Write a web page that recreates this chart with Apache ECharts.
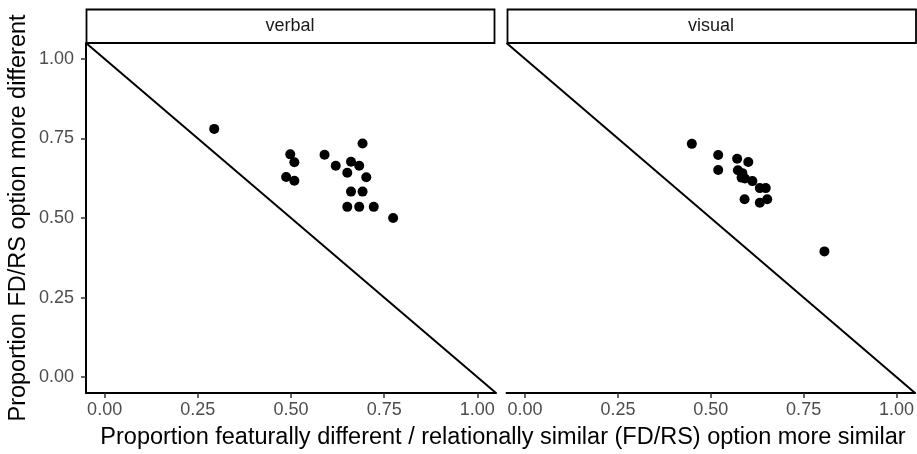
<!DOCTYPE html>
<html>
<head>
<meta charset="utf-8">
<script src="https://cdn.jsdelivr.net/npm/echarts@6/dist/echarts.min.js"></script>
<style>html,body{margin:0;padding:0;background:#fff;}#c{width:917px;height:454px;}</style>
</head>
<body>
<div id="c"></div>
<script>
// Facet names
var panels = ['verbal', 'visual'];
// Tick values
var ticks = [0, 0.25, 0.5, 0.75, 1.0];
// Reference diagonal (y = 1 - x) endpoints over the axis range
var diagonal = [[-0.05, 1.05], [1.05, -0.05]];
// verbal: [FD/RS more similar, FD/RS more different]
var verbalX = [0.294, 0.498, 0.509, 0.487, 0.509, 0.590, 0.692, 0.620, 0.661, 0.683, 0.651, 0.702, 0.661, 0.692, 0.651, 0.683, 0.722, 0.774];
var verbalY = [0.780, 0.700, 0.675, 0.629, 0.617, 0.699, 0.734, 0.664, 0.677, 0.664, 0.642, 0.628, 0.583, 0.583, 0.535, 0.535, 0.535, 0.500];
// visual
var visualX = [0.449, 0.520, 0.520, 0.571, 0.601, 0.573, 0.585, 0.583, 0.592, 0.612, 0.632, 0.648, 0.591, 0.632, 0.652, 0.806];
var visualY = [0.733, 0.698, 0.651, 0.686, 0.676, 0.650, 0.641, 0.627, 0.624, 0.616, 0.594, 0.594, 0.559, 0.548, 0.559, 0.395];

function pairs(xs, ys) { return xs.map(function (x, i) { return [x, ys[i]]; }); }

var FONT = 'Liberation Sans, Arial, sans-serif';
var chart = echarts.init(document.getElementById('c'), null, {renderer: 'canvas'});

function xAxisFor(gi) {
  return {
    type: 'value', gridIndex: gi, min: -0.05, max: 1.05,
    axisLine: {show: true, onZero: false, lineStyle: {color: '#000', width: 2}},
    axisTick: {show: true, length: 5, lineStyle: {color: '#333', width: 1.5}, customValues: ticks},
    axisLabel: {show: true, customValues: ticks, color: '#4D4D4D', fontSize: 18, fontFamily: FONT, margin: 8,
      formatter: function (v) { return v.toFixed(2); }},
    splitLine: {show: false}
  };
}

var option = {
  animation: false,
  backgroundColor: '#fff',
  grid: [
    {left: 86, top: 43, width: 410, height: 350},
    {left: 506.5, top: 43, width: 410, height: 350}
  ],
  xAxis: [xAxisFor(0), xAxisFor(1)],
  yAxis: [
    {
      type: 'value', gridIndex: 0, min: -0.05, max: 1.05,
      name: 'Proportion FD/RS option more different', nameLocation: 'middle', nameGap: 55,
      nameTextStyle: {color: '#000', fontSize: 23.5, fontFamily: FONT},
      axisLine: {show: true, onZero: false, lineStyle: {color: '#000', width: 2}},
      axisTick: {show: true, length: 5, lineStyle: {color: '#333', width: 1.5}, customValues: ticks},
      axisLabel: {show: true, customValues: ticks, color: '#4D4D4D', fontSize: 18, fontFamily: FONT, margin: 12,
        formatter: function (v) { return v.toFixed(2); }},
      splitLine: {show: false}
    },
    {
      type: 'value', gridIndex: 1, min: -0.05, max: 1.05,
      axisLine: {show: false}, axisTick: {show: false}, axisLabel: {show: false}, splitLine: {show: false}
    }
  ],
  graphic: [
    {type: 'rect', shape: {x: 86.5, y: 9.5, width: 408, height: 33.5}, style: {fill: '#fff', stroke: '#000', lineWidth: 1.8}},
    {type: 'text', x: 290, y: 26.5, style: {text: panels[0], fontSize: 18, fontFamily: FONT, fill: '#1A1A1A', align: 'center', verticalAlign: 'middle'}},
    {type: 'rect', shape: {x: 507.5, y: 9.5, width: 408.5, height: 33.5}, style: {fill: '#fff', stroke: '#000', lineWidth: 1.8}},
    {type: 'text', x: 711, y: 26.5, style: {text: panels[1], fontSize: 18, fontFamily: FONT, fill: '#1A1A1A', align: 'center', verticalAlign: 'middle'}},
    {type: 'text', x: 503, y: 438, style: {text: 'Proportion featurally different / relationally similar (FD/RS) option more similar', fontSize: 23.5, fontFamily: FONT, fill: '#000', align: 'center', verticalAlign: 'middle'}}
  ],
  series: [
    {type: 'line', xAxisIndex: 0, yAxisIndex: 0, data: diagonal, symbol: 'none', lineStyle: {color: '#000', width: 2}, silent: true},
    {type: 'line', xAxisIndex: 1, yAxisIndex: 1, data: diagonal, symbol: 'none', lineStyle: {color: '#000', width: 2}, silent: true},
    {type: 'scatter', xAxisIndex: 0, yAxisIndex: 0, data: pairs(verbalX, verbalY), symbolSize: 10, itemStyle: {color: '#000', opacity: 1}},
    {type: 'scatter', xAxisIndex: 1, yAxisIndex: 1, data: pairs(visualX, visualY), symbolSize: 10, itemStyle: {color: '#000', opacity: 1}}
  ]
};
chart.setOption(option);
</script>
</body>
</html>
